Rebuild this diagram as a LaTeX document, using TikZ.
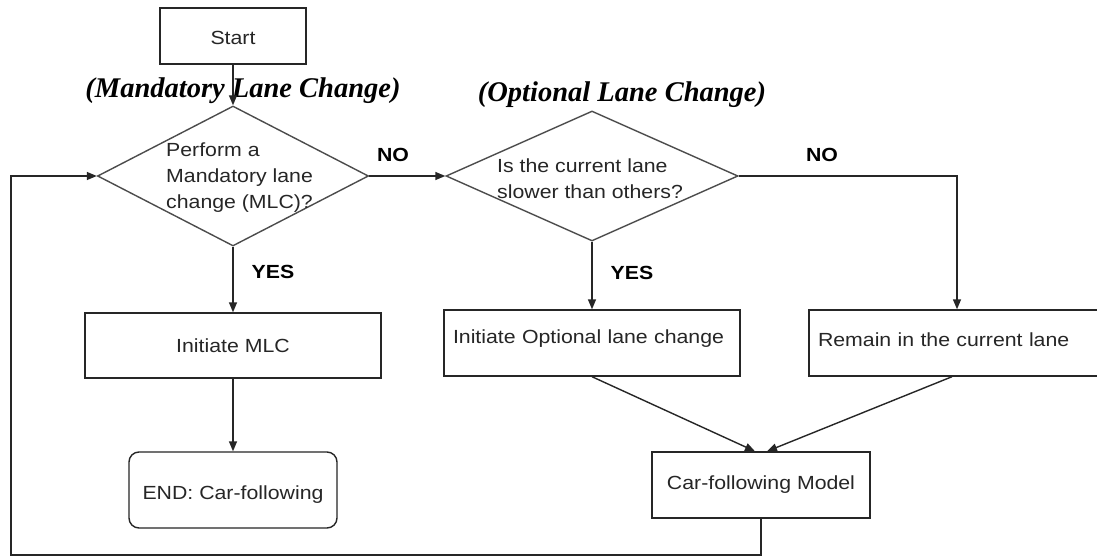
\documentclass[tikz,border=0pt]{standalone}
\usepackage{fontspec}
\setmainfont{Liberation Sans}[FakeStretch=1.12]
\newfontfamily\ttlfont{Liberation Serif}
\usetikzlibrary{arrows.meta,shapes.geometric}
\tikzset{
  boxnode/.style={draw=black!85, line width=1.4pt, rectangle, inner sep=0pt,
    font=\fontsize{19}{26}\selectfont, text=black!85},
  dnode/.style={draw=black!70, line width=1.4pt, diamond, inner sep=0pt},
  conn/.style={draw=black!85, line width=1.4pt, -{Triangle[length=10pt,width=8pt]}},
  lbl/.style={font=\fontsize{19}{22}\selectfont\bfseries, text=black, inner sep=0pt},
  ttl/.style={font=\ttlfont\fontsize{28.5}{30}\selectfont\bfseries\itshape, text=black, inner sep=0pt},
  dtext/.style={font=\fontsize{19}{26}\selectfont, align=left, inner sep=0pt, text=black!85},
}
\begin{document}
\begin{tikzpicture}[x=1pt,y=-1pt]
\useasboundingbox (0,0) rectangle (1097,559);
\clip (0,0) rectangle (1097,559);
\fill[white] (0,0) rectangle (1097,559);

% titles
\node[ttl, anchor=base] (t1) at (243,98) {(Mandatory Lane Change)};
\node[ttl, anchor=base] (t2) at (622,102) {(Optional Lane Change)};

% nodes
\node[boxnode, minimum width=146pt, minimum height=56pt, text height=18pt, text depth=0pt] (start) at (233,36) {Start};
\node[dnode, minimum width=271pt, minimum height=140pt] (mand) at (233,176) {};
\node[dtext, anchor=west] (mtxt) at (166,178) {Perform a\\Mandatory lane\\change (MLC)?};
\node[dnode, minimum width=292pt, minimum height=130pt] (opt) at (592,176) {};
\node[dtext, anchor=west] (otxt) at (497,179) {Is the current lane\\slower than others?};

\node[boxnode, minimum width=296pt, minimum height=65pt] (mlc) at (233,345.5) {Initiate MLC};
\node[boxnode, rounded corners=10pt, minimum width=208pt, minimum height=76pt,
      text height=22pt, text depth=4pt] (end) at (233,490) {END: Car-following};
\node[boxnode, minimum width=296pt, minimum height=66pt, text width=278pt, align=left,
      inner xsep=9pt, text depth=12pt] (iopt) at (592,343) {Initiate Optional lane change};
\node[boxnode, minimum width=300pt, minimum height=66pt, text width=282pt, align=left,
      inner xsep=9pt, text depth=6pt] (remain) at (959,343) {Remain in the current lane};
\node[boxnode, minimum width=218pt, minimum height=66pt] (carf) at (761,485) {Car-following Model};

% labels
\node[lbl] (no1) at (393,155) {NO};
\node[lbl] (no2) at (822,155) {NO};
\node[lbl] (yes1) at (273,272) {YES};
\node[lbl] (yes2) at (632,273) {YES};

% connectors
\coordinate (fbl) at (11,555);
\draw[conn] (start) -- (mand.north);
\draw[conn] (mand.east) -- (opt.west);
\draw[conn] (mand.south) -- (mlc.north);
\draw[conn] (mlc.south) -- (end.north);
\draw[conn] (opt.south) -- (iopt.north);
\draw[conn] (opt.east) -| ([xshift=-2pt]remain.north);
\draw[conn] (iopt.south) -- ([xshift=-6pt]carf.north);
\draw[conn] ([xshift=-7pt]remain.south) -- ([xshift=6pt]carf.north);
\draw[conn] (carf.south) |- (fbl) |- (mand.west);
\end{tikzpicture}
\end{document}
